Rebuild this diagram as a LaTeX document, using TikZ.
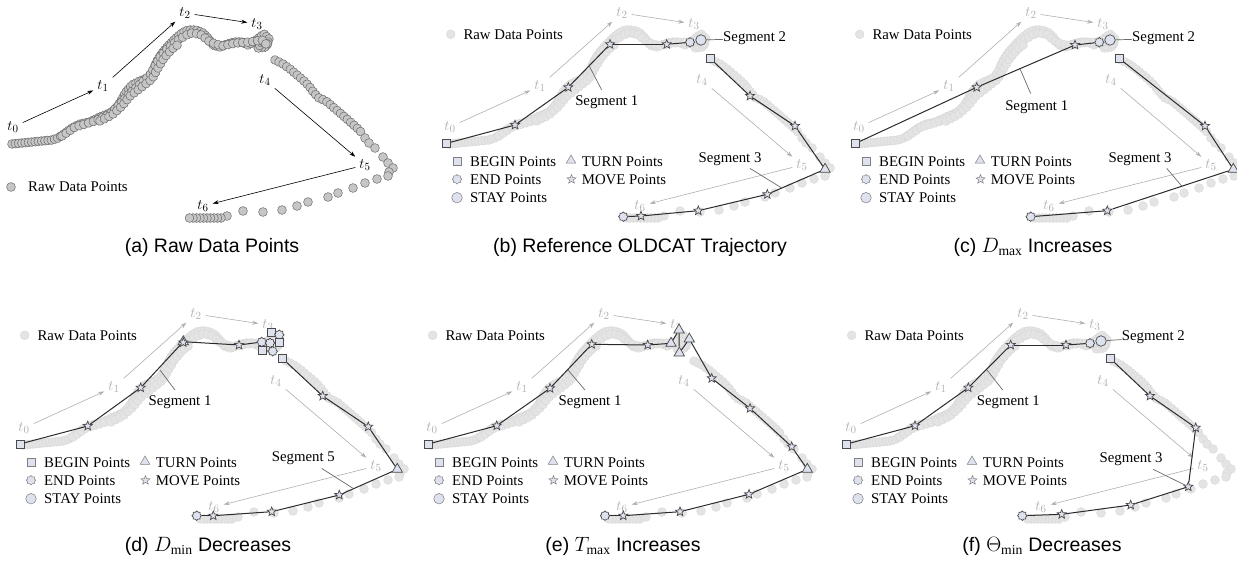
\documentclass[tikz,border=0pt]{standalone}
\usepackage{fontspec}
\setmainfont{Liberation Serif}
\newfontfamily\capfont{Liberation Sans}
\usetikzlibrary{shapes.geometric,shapes.symbols,decorations.markings,arrows.meta}

\definecolor{mkfill}{HTML}{DDE2EE}
\definecolor{mkdraw}{HTML}{4A4A4A}
\definecolor{trajc}{HTML}{2B2B2B}
\definecolor{rawAfill}{HTML}{C6C6C6}
\definecolor{rawAdraw}{HTML}{6A6A6A}
\definecolor{rawBfill}{HTML}{E4E4E4}
\definecolor{rawBdraw}{HTML}{D8D8D8}
\definecolor{tgrey}{HTML}{B0B0B0}
\definecolor{leadc}{HTML}{6A6A6A}

\tikzset{
 mkbase/.style={draw=mkdraw, fill=mkfill, line width=0.7pt, inner sep=0pt},
 begmk/.style={mkbase, rectangle, minimum size=8pt},
 endmk/.style={mkbase, cloud, cloud puffs=8, cloud puff arc=170, aspect=1, minimum width=9.5pt, minimum height=9.5pt},
 staymk/.style={mkbase, circle, minimum size=10.5pt},
 turnmk/.style={mkbase, regular polygon, regular polygon sides=3, minimum size=12pt},
 movemk/.style={mkbase, star, star points=5, star point ratio=2.3, minimum size=9.5pt},
 legmk/.style={draw=gray, line width=0.5pt},
 traj/.style={draw=trajc, line width=1pt},
 rawA/.style={fill=rawAfill, draw=rawAdraw, line width=0.5pt},
 rawB/.style={fill=rawBfill, draw=rawBdraw, line width=0.4pt},
 tlab/.style={inner sep=4pt, font=\fontsize{15}{17}\selectfont},
 tarr/.style={-{Stealth[length=6pt,width=4pt]}, line width=0.6pt},
 txt/.style={inner sep=0pt, font=\fontsize{14.8}{17}\selectfont},
 leader/.style={draw=leadc, line width=0.7pt},
 captext/.style={inner sep=0pt, font=\capfont\fontsize{19.5}{22}\selectfont},
}

\newcommand\rawdata[1]{%
 \path[decorate, decoration={markings, mark=between positions 0 and 1 step 3.3pt with {\path[#1] (0,0) circle (4.4pt);}}]
  (12,144) -- (22,143) -- (32,142) -- (42,141) -- (52,140) -- (58,138) -- (64,134) -- (72,128) -- (80,124) -- (90,122) -- (98,118) -- (105,115) -- (112,112) -- (117,107) -- (121,101) -- (126,92) -- (132,85) -- (140,81) -- (148,78) -- (153,71) -- (157,61) -- (162,53) -- (169,45) -- (176,38) -- (182,33) -- (188,30) -- (196,30) -- (203,33) -- (208,38) -- (213,45) -- (220,47) -- (227,44) -- (235,42) -- (242,42) -- (248,45) -- (254,42) -- (260,37) -- (264,34) -- (269,39) -- (266,47) -- (258,48) -- (262,42) -- (268,44);
 \path[decorate, decoration={markings, mark=between positions 0 and 1 step 5pt with {\path[#1] (0,0) circle (4.4pt);}}]
  (62,136) -- (75,127) -- (95,121) -- (110,114) -- (120,104) -- (128,95) -- (140,84) -- (150,75) -- (155,66) -- (160,57) -- (168,48) -- (178,40) -- (190,33) -- (200,34) -- (210,42) -- (222,46) -- (236,43) -- (250,42) -- (262,40) -- (266,44);
 \path[decorate, decoration={markings, mark=between positions 0 and 1 step 5pt with {\path[#1] (0,0) circle (4.4pt);}}]
  (100,121) -- (112,115) -- (122,106) -- (130,96) -- (143,86) -- (152,79) -- (158,68) -- (164,58) -- (172,49) -- (180,43);
 \path[decorate, decoration={markings, mark=between positions 0 and 1 step 4.5pt with {\path[#1] (0,0) circle (4.4pt);}}]
  (275,60) -- (283,64) -- (290,69) -- (297,75) -- (303,80) -- (309,86) -- (314,93) -- (319,98) -- (326,101) -- (333,107) -- (340,113) -- (348,120) -- (356,127) -- (362,133);
 \foreach \p in {(365,138),(369,143),(375,148),(383,157),(388,163),(393,168),(389,172),(388,176),(377,179),(365,183),(353,188),(338,193),(328,197),(308,202),(297,206),(282,210),(263,212),(243,211),(227,216)}
  \path[#1] \p circle (4.4pt);
 \path[decorate, decoration={markings, mark=between positions 0 and 1 step 3.5pt with {\path[#1] (0,0) circle (4.4pt);}}]
  (221,218) -- (188,218);
}

\newcommand\tmarks[2]{%
 \node[tlab,#2] (#1t0) at (13,127) {$t_0$};
 \node[tlab,#2] (#1t1) at (103,86) {$t_1$};
 \node[tlab,#2] (#1t2) at (185,13) {$t_2$};
 \node[tlab,#2] (#1t3) at (257,24) {$t_3$};
 \node[tlab,#2] (#1t4) at (265,80) {$t_4$};
 \node[tlab,#2] (#1t5) at (365,165) {$t_5$};
 \node[tlab,#2] (#1t6) at (203,206) {$t_6$};
 \draw[tarr,#2] (#1t0) -- (#1t1);
 \draw[tarr,#2] (#1t1) -- (#1t2);
 \draw[tarr,#2] (#1t2) -- (#1t3);
 \draw[tarr,#2] (#1t4) -- (#1t5);
 \draw[tarr,#2] (#1t5) -- (#1t6);
}

\newcommand\legendB[1]{%
 \path[rawB] (13.7,34.3) circle (4.4pt);
 \node[txt,anchor=west] (#1raw) at (26.3,34.3) {Raw Data Points};
 \node[begmk,legmk] (#1lb) at (20,161.7) {};
 \node[txt,anchor=west] (#1lbt) at (33,161.7) {BEGIN Points};
 \node[turnmk,legmk,minimum size=11pt] (#1lt) at (134,160.5) {};
 \node[txt,anchor=west] (#1ltt) at (144.7,161.7) {TURN Points};
 \node[endmk,legmk] (#1le) at (20,179.3) {};
 \node[txt,anchor=west] (#1let) at (33,179.3) {END Points};
 \node[movemk,legmk] (#1lm) at (134.5,179.3) {};
 \node[txt,anchor=west] (#1lmt) at (144.7,179.3) {MOVE Points};
 \node[staymk,legmk] (#1ls) at (20,197.7) {};
 \node[txt,anchor=west] (#1lst) at (33,197.7) {STAY Points};
}

\newcommand\chain[2]{%
 \foreach \typ/\x/\y [count=\i] in {#2}{\node[\typ] (#1-\i) at (\x,\y) {};}%
 \foreach \typ/\x/\y [count=\i, remember=\i as \j (initially 0)] in {#2}{\ifnum\i>1 \draw[traj] (#1-\j) -- (#1-\i);\fi}%
}

\begin{document}
\begin{tikzpicture}[x=1pt,y=-1pt]
\useasboundingbox (0,0) rectangle (1237,567);
\fill[white] (0,0) rectangle (1237,567);

% (a)
\begin{scope}
 \rawdata{rawA}
 \tmarks{a}{color=black}
 \path[rawA] (11,187) circle (4.4pt);
 \node[txt,anchor=west] (araw) at (28,187) {Raw Data Points};
\end{scope}
\node[captext] (capa) at (212,247) {(a) Raw Data Points};

% (b)
\begin{scope}[shift={(437,0)}]
 \rawdata{rawB}
 \tmarks{b}{color=tgrey}
 \legendB{b}
 \chain{bA}{begmk/9.7/143.3, movemk/78/125, movemk/131.3/87.3, movemk/173/44.3, movemk/229.7/44.3, endmk/253/42.3}
 \node[staymk] (bst) at (264,40) {};
 \chain{bC}{begmk/273/58.3, movemk/313/96, movemk/358/126, turnmk/388/169.3, movemk/330.3/194.3, movemk/261.3/210.7, movemk/204/216, endmk/186.3/216.7}
 \node[txt] (bseg1) at (169.7,102.3) {Segment 1};
 \coordinate (bs1) at (152,65.5);
 \draw[leader] ([shift={(-5,-5.6)}]bseg1.north) -- (bs1);
 \node[txt,anchor=west] (bseg2) at (286,38.5) {Segment 2};
 \draw[leader] (bst) -- (bseg2);
 \node[txt] (bseg3) at (293,159.3) {Segment 3};
 \coordinate (bs3) at (344.7,188);
 \draw[leader] ([shift={(20,2.4)}]bseg3.south) -- (bs3);
\end{scope}
\node[captext] (capb) at (640,247) {(b) Reference OLDCAT Trajectory};

% (c)
\begin{scope}[shift={(846,0)}]
 \rawdata{rawB}
 \tmarks{c}{color=tgrey}
 \legendB{c}
 \chain{cA}{begmk/9.7/143.3, movemk/130.7/87.3, movemk/229/45, endmk/253.3/42.3}
 \node[staymk] (cst) at (264,40) {};
 \chain{cC}{begmk/273/58.3, movemk/359/126, turnmk/387.3/169.3, movemk/261.3/210.7, endmk/184.7/216.7}
 \node[txt] (cseg1) at (190.7,107.3) {Segment 1};
 \coordinate (cs1) at (174,68.7);
 \draw[leader] ([shift={(-6,-7)}]cseg1.north) -- (cs1);
 \node[txt,anchor=west] (cseg2) at (286,38.5) {Segment 2};
 \draw[leader] (cst) -- (cseg2);
 \node[txt] (cseg3) at (294,159.3) {Segment 3};
 \coordinate (cs3) at (335.7,186);
 \draw[leader] ([shift={(26.7,2.4)}]cseg3.south) -- (cs3);
\end{scope}
\node[captext] (capc) at (1033,247) {(c) $D_{\max}$ Increases};

% (d)
\begin{scope}[shift={(11,301)}]
 \rawdata{rawB}
 \tmarks{d}{color=tgrey}
 \legendB{d}
 \chain{dA}{begmk/9/143, movemk/76.7/125, movemk/129.7/86.7, turnmk/172.3/40.7, movemk/228/44, endmk/250.7/41}
 \node[movemk] (dxs) at (172.3,41.5) {};
 \chain{dB}{begmk/260/31.3, endmk/268.3/33.7}
 \chain{dC}{begmk/268.3/41, endmk/259/42}
 \chain{dD}{begmk/251.7/49.7, endmk/261.7/50.3}
 \chain{dE}{begmk/271.7/57.7, movemk/311.7/95, movemk/357.3/125.7, turnmk/386.3/168.3, movemk/328.3/194, movemk/260.7/210.7, movemk/202.3/214.7, endmk/185.7/214.7}
 \node[txt] (dseg1) at (169,101.3) {Segment 1};
 \coordinate (ds1) at (149,69);
 \draw[leader] ([shift={(-5,-5.6)}]dseg1.north) -- (ds1);
 \node[txt] (dseg5) at (292.3,157.3) {Segment 5};
 \coordinate (ds5) at (342.3,187.5);
 \draw[leader] ([shift={(18.4,3.4)}]dseg5.south) -- (ds5);
\end{scope}
\node[captext] (capd) at (208,546) {(d) $D_{\min}$ Decreases};

% (e)
\begin{scope}[shift={(419,301)}]
 \rawdata{rawB}
 \tmarks{e}{color=tgrey}
 \legendB{e}
 \chain{eA}{begmk/9.3/143, movemk/77.7/124.7, movemk/131/87.3, movemk/172.7/43.3, movemk/228.7/44, turnmk/252/42.3, turnmk/260/29, turnmk/260.3/52, turnmk/270.3/38, movemk/292.7/77.3, movemk/331/107.3, movemk/372.7/145.7, turnmk/388.3/168.3, movemk/330/193.3, movemk/261/210.7, movemk/204.3/214.7, endmk/186/214.7}
 \node[txt] (eseg1) at (171,101.3) {Segment 1};
 \coordinate (es1) at (149,69);
 \draw[leader] ([shift={(-5,-5.6)}]eseg1.north) -- (es1);
\end{scope}
\node[captext] (cape) at (623,546) {(e) $T_{\max}$ Increases};

% (f)
\begin{scope}[shift={(838,301)}]
 \rawdata{rawB}
 \tmarks{f}{color=tgrey}
 \legendB{f}
 \chain{fA}{begmk/8.7/143, movemk/77/124.7, movemk/130.3/86.7, movemk/172.7/44, movemk/228/44, endmk/252/42.3}
 \node[staymk] (fst) at (263,40) {};
 \chain{fC}{begmk/272/57.3, movemk/312/95, movemk/357.7/126.7, movemk/350.3/185.7, movemk/292.7/204, movemk/223.7/213.3, endmk/184.3/214.7}
 \node[txt] (fseg1) at (170.3,101.3) {Segment 1};
 \coordinate (fs1) at (149,69);
 \draw[leader] ([shift={(-5.6,-5.6)}]fseg1.north) -- (fs1);
 \node[txt,anchor=west] (fseg2) at (283.7,36.3) {Segment 2};
 \draw[leader] (fst) -- (fseg2);
 \node[txt] (fseg3) at (293,158) {Segment 3};
 \draw[leader] ([shift={(22.3,3.7)}]fseg3.south) -- (fC-4);
\end{scope}
\node[captext] (capf) at (1042,546) {(f) $\Theta_{\min}$ Decreases};
\end{tikzpicture}
\end{document}
